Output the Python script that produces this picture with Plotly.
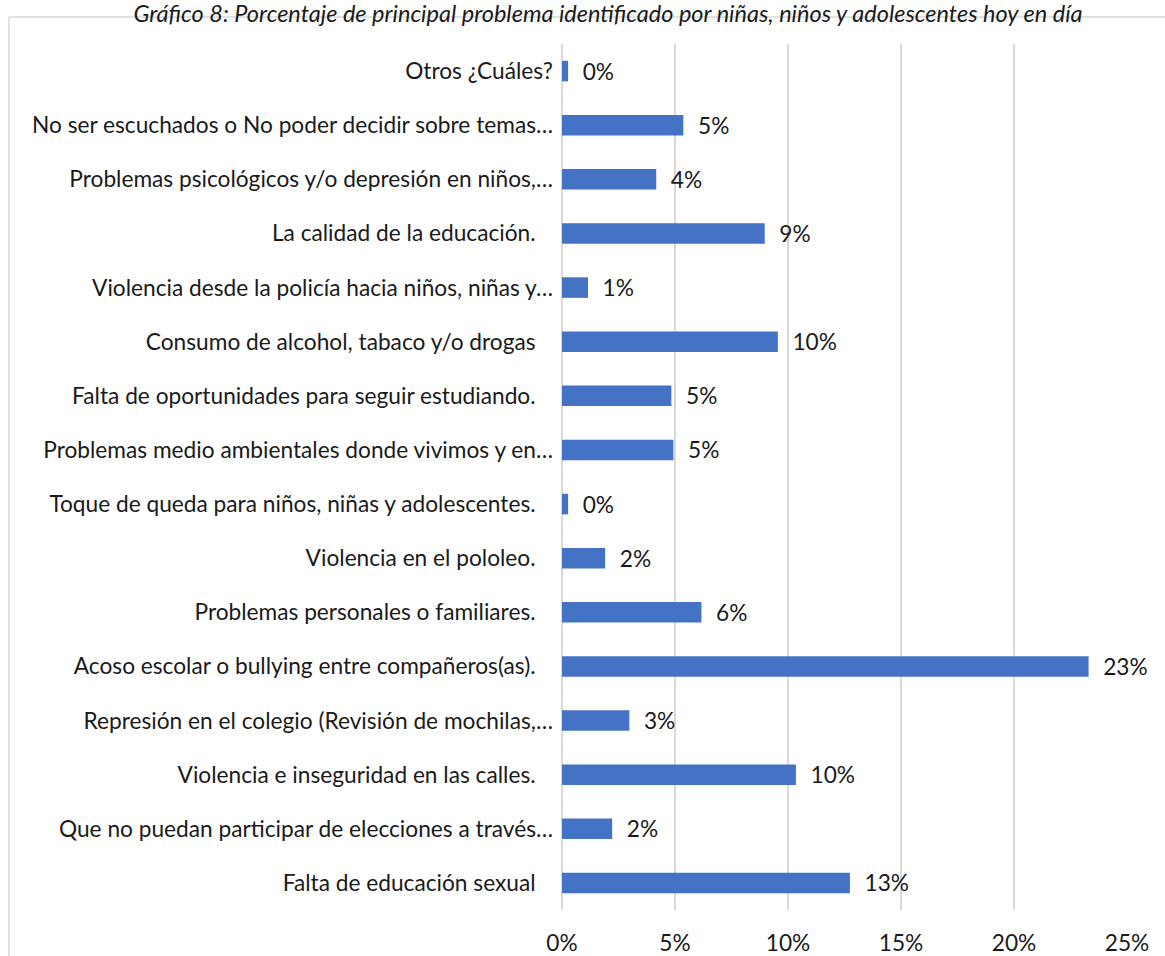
import plotly.graph_objects as go

# Categories, top to bottom as displayed
categories = [
    "Otros ¿Cuáles?",
    "No ser escuchados o No poder decidir sobre temas…",
    "Problemas psicológicos y/o depresión en niños,…",
    "La calidad de la educación.\u00a0\u00a0\u00a0",
    "Violencia desde la policía hacia niños, niñas y…",
    "Consumo de alcohol, tabaco y/o drogas\u00a0\u00a0\u00a0",
    "Falta de oportunidades para seguir estudiando.\u00a0\u00a0\u00a0",
    "Problemas medio ambientales donde vivimos y en…",
    "Toque de queda para niños, niñas y adolescentes.\u00a0\u00a0\u00a0",
    "Violencia en el pololeo.\u00a0\u00a0\u00a0",
    "Problemas personales o familiares.\u00a0\u00a0\u00a0",
    "Acoso escolar o bullying entre compañeros(as).\u00a0\u00a0\u00a0",
    "Represión en el colegio (Revisión de mochilas,…",
    "Violencia e inseguridad en las calles.\u00a0\u00a0\u00a0",
    "Que no puedan participar de elecciones a través…",
    "Falta de educación sexual\u00a0\u00a0\u00a0",
]

# Percent values
values = [0.27, 5.37, 4.17, 8.97, 1.15, 9.55, 4.84, 4.93,
          0.27, 1.91, 6.17, 23.3, 2.98, 10.35, 2.22, 12.74]

tick_vals = [0, 5, 10, 15, 20, 25]
tick_text = ["0%", "5%", "10%", "15%", "20%", "25%"]

title_text = "Gráfico 8: Porcentaje de principal problema identificado por niñas, niños y adolescentes hoy en día"

W, H = 1165, 956
ML, MR, MT, MB = 562, 38, 44, 46
FONT = "Lato"
FS = 22.7

fig = go.Figure()
fig.add_trace(go.Bar(
    x=values,
    y=categories,
    orientation="h",
    marker=dict(color="#4472C4", line=dict(width=0)),
    texttemplate="\u00a0\u00a0%{x:.0f}%",
    textposition="outside",
    constraintext="none",
    cliponaxis=False,
    textfont=dict(family=FONT, size=FS, color="#1a1a1a"),
    hoverinfo="skip",
))

pw = W - ML - MR
ph = H - MT - MB
# frame around the chart (pixel positions converted to paper coords)
fx0 = (9 - ML) / pw
fx1 = (W + 20 - ML) / pw
fy1 = (H - MB - 17) / ph
fy0 = -(60) / ph

fig.add_shape(type="rect", xref="paper", yref="paper",
              x0=fx0, x1=fx1, y0=fy0, y1=fy1,
              line=dict(color="#d9d9d9", width=1.5), fillcolor="rgba(0,0,0,0)",
              layer="below")

fig.update_layout(
    width=W, height=H,
    margin=dict(l=ML, r=MR, t=MT, b=MB, autoexpand=False),
    paper_bgcolor="white", plot_bgcolor="white",
    bargap=0.62,
    showlegend=False,
    font=dict(family=FONT, size=FS, color="#1a1a1a"),
    title=dict(text=title_text, x=608 / W, xanchor="center",
               y=1 - 14 / H, yanchor="middle", yref="container",
               font=dict(family=FONT, size=23.5, color="#1a1a1a", style="italic")),
    xaxis=dict(range=[0, 25], tickvals=tick_vals, ticktext=tick_text,
               showgrid=True, gridcolor="#d9d9d9", gridwidth=1.5,
               zeroline=True, zerolinecolor="#d9d9d9", zerolinewidth=1.5,
               showline=False, ticks="", ticklabelstandoff=17,
               tickfont=dict(family=FONT, size=FS, color="#1a1a1a")),
    yaxis=dict(autorange="reversed", showgrid=False, zeroline=False,
               showline=False, ticks="", ticklabelstandoff=8,
               tickfont=dict(family=FONT, size=FS, color="#1a1a1a")),
)

fig.write_html("out.html",
               config={"displayModeBar": False},
               post_script="document.body.style.margin='0';document.body.style.padding='0';")
